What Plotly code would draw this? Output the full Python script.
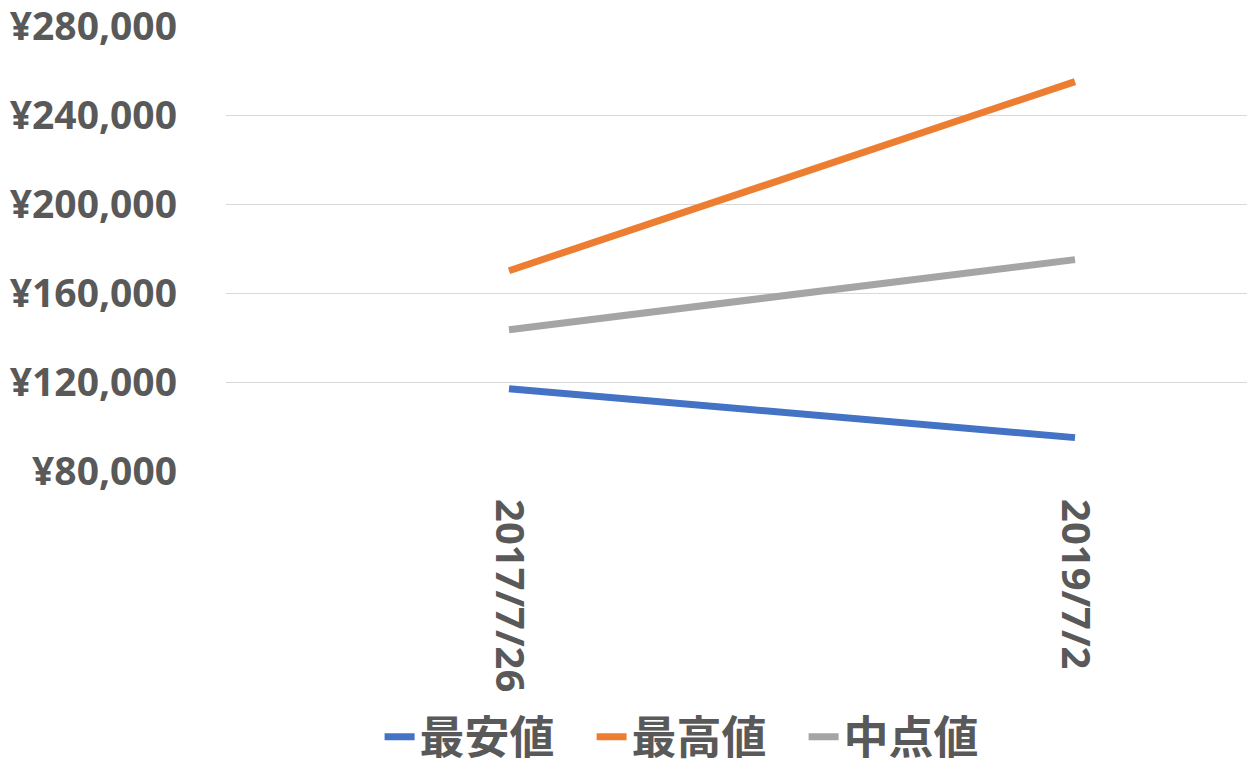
import plotly.graph_objects as go

# Dados
datas = ["2017/7/26", "2019/7/2"]
minimo = [117000, 95000]
maximo = [170000, 255000]
medio = [143500, 175000]

series = [("最安値", minimo, "#4472C4"),
          ("最高値", maximo, "#ED7D31"),
          ("中点値", medio, "#A5A5A5")]

fig = go.Figure()
for nome, valores, cor in series:
    fig.add_trace(go.Scatter(x=datas, y=valores, mode='lines', name=nome,
                             line=dict(color=cor, width=7)))

fonte = "Noto Sans, Noto Sans CJK JP, sans-serif"

# a página tem margem de 8px no body, por isso 1247x769
fig.update_layout(
    width=1247, height=769,
    margin=dict(l=218, r=0, t=18, b=306),
    plot_bgcolor="white", paper_bgcolor="white",
    font=dict(family=fonte, color="#595959", size=39, weight="bold"),
    showlegend=True,
    legend=dict(orientation="h", xref="container", yref="container",
                x=0.553, xanchor="center", y=0.052, yanchor="middle",
                font=dict(size=45, weight="bold"), itemwidth=30,
                entrywidth=167),
)

fig.update_xaxes(type="category", range=[-0.5, 1.318], tickangle=90,
                 showgrid=False, showline=False, zeroline=False,
                 ticklabelstandoff=27, automargin=False,
                 tickfont=dict(size=40))
fig.update_yaxes(range=[80000, 280000], dtick=40000, tickprefix="¥",
                 tickformat=",d", gridcolor="#D9D9D9", gridwidth=1.3,
                 zeroline=False, showline=False, ticklabelstandoff=48,
                 automargin=False, ticklabeloverflow="allow")

fig.write_html("out.html")
